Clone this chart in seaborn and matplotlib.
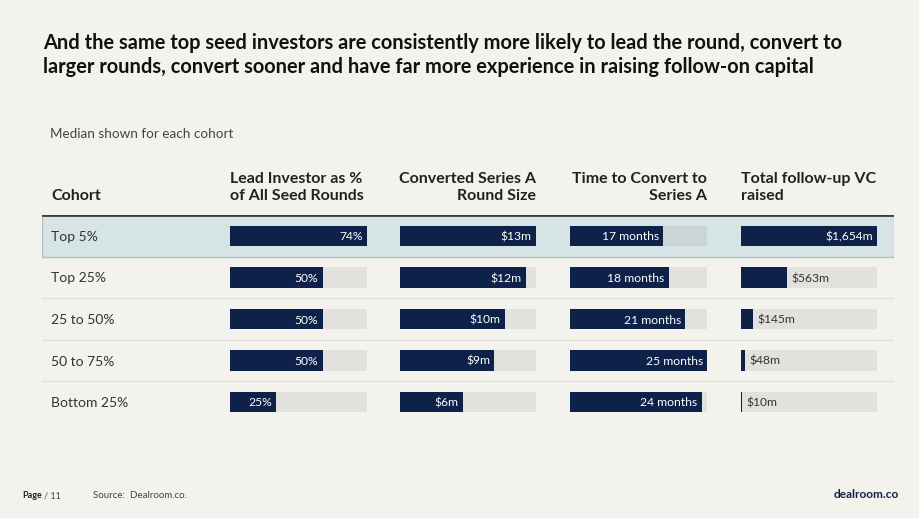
import pandas as pd
import matplotlib.pyplot as plt
import seaborn as sns

# Data
cohorts = ['Top 5%', 'Top 25%', '25 to 50%', '50 to 75%', 'Bottom 25%']
lead_pct = [74, 50, 50, 50, 25]
round_size = [13, 12, 10, 9, 6]
months_to_a = [17, 18, 21, 25, 24]
followup_vc = [1654, 563, 145, 48, 10]

lead_labels = ['74%', '50%', '50%', '50%', '25%']
round_labels = ['$13m', '$12m', '$10m', '$9m', '$6m']
months_labels = ['17 months', '18 months', '21 months', '25 months', '24 months']
followup_labels = ['$1,654m', '$563m', '$145m', '$48m', '$10m']

headers = ['Lead Investor as %\nof All Seed Rounds', 'Converted Series A\nRound Size',
           'Time to Convert to\nSeries A', 'Total follow-up VC\nraised']

# colours
BG = '#f3f2ec'
NAVY = '#0e2249'
TRACK = '#e3e2dc'
TRACK_HI = '#c9d6d8'
HILITE = '#d6e4e6'

sns.set_theme(style='white')
plt.rcParams['font.family'] = ['Lato', 'DejaVu Sans']

W, H = 920, 518
fig = plt.figure(figsize=(9.2, 5.18), dpi=100, facecolor=BG)


def fx(x):
    return x / W


def fy(y):
    return 1 - y / H


# table rows: centres at 236 .. 402 px
top_px, bot_px = 215.25, 422.75
ax_h = (bot_px - top_px) / H

# background: highlight band, header rule, separators, row labels
ax_bg = fig.add_axes([fx(42), fy(bot_px), fx(894 - 42), ax_h])
ax_bg.set_xlim(42, 894)
ax_bg.set_ylim(4.5, -0.5)
ax_bg.axis('off')
ax_bg.axhspan(-0.5, 0.5, facecolor=HILITE, edgecolor='#b4bfc1', lw=1)
for y in [1.5, 2.5, 3.5]:
    ax_bg.axhline(y, color='#e0dfd8', lw=1)
ax_bg.axhline(-0.5, color='#3c3c3c', lw=2)
for i, c in enumerate(cohorts):
    ax_bg.text(51, i, c, va='center_baseline', ha='left', fontsize=10, color='#333333')

# bar columns
columns = [
    (230, 367, lead_pct, lead_labels),
    (400, 536, round_size, round_labels),
    (570, 707, months_to_a, months_labels),
    (741, 877, followup_vc, followup_labels),
]
track_colors = [TRACK_HI] + [TRACK] * (len(cohorts) - 1)

fig.canvas.draw()
renderer = fig.canvas.get_renderer()

for x0, x1, vals, labels in columns:
    ax = fig.add_axes([fx(x0), fy(bot_px), fx(x1 - x0), ax_h])
    vmax = max(vals)
    df = pd.DataFrame({'Cohort': cohorts, 'Value': vals, 'Track': [vmax] * len(vals)})
    sns.barplot(data=df, x='Track', y='Cohort', hue='Cohort', palette=track_colors,
                width=0.5, legend=False, ax=ax, linewidth=0)
    sns.barplot(data=df, x='Value', y='Cohort', color=NAVY, saturation=1,
                width=0.5, ax=ax, linewidth=0)
    ax.set_xlim(0, vmax)
    ax.set_ylim(4.5, -0.5)
    ax.axis('off')
    # label inside the bar (white) when it fits, otherwise just right of it
    for i, (v, lab) in enumerate(zip(vals, labels)):
        bar_px = v / vmax * (x1 - x0)
        t = ax.annotate(lab, (v, i), xytext=(-3, 0), textcoords='offset points',
                        ha='right', va='center_baseline', fontsize=8.7, color='white')
        tw = t.get_window_extent(renderer).width
        if tw + 10 > bar_px:
            t.set_ha('left')
            t.set_color('#333333')
            t.set_position((3, 0))

# column headers
hdr_kw = dict(fontsize=11.5, fontweight='bold', color='#222222', va='bottom', linespacing=1.25)
fig.text(fx(51), fy(203), 'Cohort', ha='left', **hdr_kw)
fig.text(fx(230), fy(203), headers[0], ha='left', multialignment='left', **hdr_kw)
fig.text(fx(536), fy(203), headers[1], ha='right', multialignment='right', **hdr_kw)
fig.text(fx(707), fy(203), headers[2], ha='right', multialignment='right', **hdr_kw)
fig.text(fx(741), fy(203), headers[3], ha='left', multialignment='left', **hdr_kw)

# title and subtitle
fig.text(fx(43), fy(33), 'And the same top seed investors are consistently more likely to lead the round, convert to\n'
         'larger rounds, convert sooner and have far more experience in raising follow-on capital',
         ha='left', va='top', fontsize=14.4, fontweight='bold', color='#111111', linespacing=1.25)
fig.text(fx(50), fy(134), 'Median shown for each cohort', ha='left', va='center',
         fontsize=9.7, color='#444444')

# footer
fig.text(fx(22), fy(496), 'Page', ha='left', va='center', fontsize=6.5, fontweight='bold', color='#222222')
fig.text(fx(44), fy(496), '/ 11', ha='left', va='center', fontsize=6.5, color='#444444')
fig.text(fx(93), fy(496), 'Source:  Dealroom.co.', ha='left', va='center', fontsize=7, color='#444444')
fig.text(fx(899), fy(495), 'dealroom.co', ha='right', va='center', fontsize=8.6,
         fontweight='bold', color=NAVY)

fig.savefig('out.png', dpi=100, facecolor=BG)
